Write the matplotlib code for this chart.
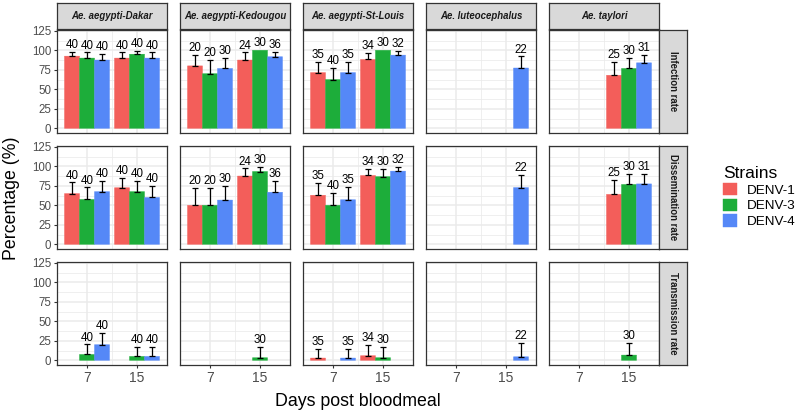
import matplotlib
matplotlib.use("Agg")
import matplotlib.pyplot as plt

plt.rcParams["font.family"] = ["Liberation Sans", "DejaVu Sans"]

species = ["Ae. aegypti-Dakar", "Ae. aegypti-Kedougou", "Ae. aegypti-St-Louis",
           "Ae. luteocephalus", "Ae. taylori"]
rates = ["Infection rate", "Dissemination rate", "Transmission rate"]
strains = ["DENV-1", "DENV-3", "DENV-4"]
days = ["7", "15"]
colors = ["#F35E5A", "#1DAD3A", "#5588F7"]

# mosquitoes tested, per species -> day -> strain (None = not tested)
sample_n = [
    [[40, 40, 40], [40, 40, 40]],
    [[20, 20, 30], [24, 30, 36]],
    [[35, 40, 35], [34, 30, 32]],
    [[None, None, None], [None, None, 22]],
    [[None, None, None], [25, 30, 31]],
]

infection_pct = [
    [[92.5, 90.0, 87.5], [90.0, 95.0, 90.0]],
    [[80.0, 70.0, 76.7], [87.5, 100.0, 91.7]],
    [[71.4, 62.5, 71.4], [88.2, 100.0, 93.8]],
    [[None, None, None], [None, None, 77.3]],
    [[None, None, None], [68.0, 76.7, 83.9]],
]
infection_upper = [
    [[98.4, 97.2, 95.8], [97.2, 99.4, 97.2]],
    [[94.3, 88.1, 90.1], [97.3, 100.0, 98.2]],
    [[85.4, 77.3, 85.4], [96.7, 100.0, 99.2]],
    [[None, None, None], [None, None, 92.2]],
    [[None, None, None], [85.1, 90.1, 94.5]],
]

dissemination_pct = [
    [[65.0, 57.5, 67.5], [72.5, 67.5, 60.0]],
    [[50.0, 50.0, 56.7], [87.5, 93.3, 66.7]],
    [[62.9, 50.0, 57.1], [88.2, 86.7, 93.8]],
    [[None, None, None], [None, None, 72.7]],
    [[None, None, None], [64.0, 76.7, 77.4]],
]
dissemination_upper = [
    [[79.4, 72.9, 81.4], [85.4, 81.4, 75.1]],
    [[72.8, 72.8, 74.5], [97.3, 99.2, 81.4]],
    [[78.8, 65.8, 73.7], [96.7, 96.2, 99.2]],
    [[None, None, None], [None, None, 89.3]],
    [[None, None, None], [82.0, 90.1, 90.4]],
]

transmission_pct = [
    [[0.0, 7.5, 20.0], [0.0, 5.0, 5.0]],
    [[0.0, 0.0, 0.0], [0.0, 3.3, 0.0]],
    [[2.9, 0.0, 2.9], [5.9, 3.3, 0.0]],
    [[None, None, None], [None, None, 4.5]],
    [[None, None, None], [0.0, 6.7, 0.0]],
]
transmission_upper = [
    [[None, 20.4, 35.6], [None, 16.9, 16.9]],
    [[None, None, None], [None, 17.2, None]],
    [[14.9, None, 14.9], [19.7, 17.2, None]],
    [[None, None, None], [None, None, 22.8]],
    [[None, None, None], [None, 22.1, None]],
]

rate_pct = [infection_pct, dissemination_pct, transmission_pct]
rate_upper = [infection_upper, dissemination_upper, transmission_upper]

# ---- layout in pixels ----
W, H = 800, 413
col_x = [57, 180, 303, 426, 549]
pan_w = 110
row_y = [30, 146, 262]
pan_h = 103
border = "#333333"
grid_c = "#EBEBEB"


def px_axes(fig, x, y, w, h):
    return fig.add_axes([x / W, 1 - (y + h) / H, w / W, h / H])


fig = plt.figure(figsize=(W / 100, H / 100), dpi=100)

bar_w = 0.3
handles = []
for r, rate in enumerate(rates):
    for c, sp in enumerate(species):
        ax = px_axes(fig, col_x[c], row_y[r], pan_w, pan_h)
        ax.set_xlim(0.4, 2.6)
        ax.set_ylim(-6, 126)
        ax.set_yticks([0, 25, 50, 75, 100, 125])
        ax.set_yticks([12.5, 37.5, 62.5, 87.5, 112.5], minor=True)
        ax.set_xticks([1, 2])
        ax.set_xticks([1.5], minor=True)
        ax.grid(which="major", color=grid_c, lw=1.1, zorder=0)
        ax.grid(which="minor", color=grid_c, lw=0.55, zorder=0)
        ax.set_axisbelow(True)
        for s in ax.spines.values():
            s.set_color(border)
            s.set_linewidth(0.9)

        for d in range(len(days)):
            for j in range(len(strains)):
                v = rate_pct[r][c][d][j]
                if v is None or v <= 0:
                    continue
                x = d + 1 + (j - 1) * bar_w
                b = ax.bar(x, v, width=bar_w, color=colors[j],
                           edgecolor=colors[j], linewidth=0.3, zorder=2,
                           label=strains[j])
                for p in b:
                    p.set_snap(False)
                if r == 0 and c == 0 and d == 0:
                    handles.append(b)
                up = rate_upper[r][c][d][j]
                top = v
                if up is not None and up > v:
                    ax.errorbar(x, v, yerr=[[0], [up - v]], fmt="none",
                                ecolor="black", elinewidth=0.9, capsize=1.9,
                                capthick=0.9, zorder=3)
                    top = up
                ax.annotate(str(sample_n[c][d][j]), (x, top), xytext=(0, 0.6),
                            textcoords="offset points", ha="center",
                            va="bottom", fontsize=8.3, zorder=4)

        ax.tick_params(which="minor", length=0)
        if c == 0:
            ax.tick_params(axis="y", which="major", length=2.5, width=0.8,
                           color=border, labelsize=8.3, pad=1.5,
                           labelcolor="#4D4D4D")
        else:
            ax.tick_params(axis="y", which="major", length=0, labelleft=False)
        if r == len(rates) - 1:
            ax.set_xticklabels(days)
            ax.tick_params(axis="x", which="major", length=2.5, width=0.8,
                           color=border, labelsize=10, pad=2,
                           labelcolor="#4D4D4D")
        else:
            ax.tick_params(axis="x", which="major", length=0, labelbottom=False)

# top strips
for c, sp in enumerate(species):
    sax = px_axes(fig, col_x[c], 3, pan_w, 26)
    sax.set_facecolor("#D9D9D9")
    sax.set_xticks([])
    sax.set_yticks([])
    for s in sax.spines.values():
        s.set_color(border)
        s.set_linewidth(0.9)
    sax.text(0.5, 0.5, sp, ha="center", va="center", fontsize=6.9,
             fontweight="bold", fontstyle="italic", color="#1A1A1A",
             transform=sax.transAxes)

# right strips
for r, rate in enumerate(rates):
    sax = px_axes(fig, 659, row_y[r], 28, pan_h)
    sax.set_facecolor("#D9D9D9")
    sax.set_xticks([])
    sax.set_yticks([])
    for s in sax.spines.values():
        s.set_color(border)
        s.set_linewidth(0.9)
    sax.text(0.5, 0.5, rate, ha="center", va="center", fontsize=6.9,
             fontweight="bold", rotation=-90, color="#1A1A1A",
             transform=sax.transAxes)

fig.text(12 / W, 1 - 198 / H, "Percentage (%)", rotation=90, ha="center",
         va="center", fontsize=12.8)
fig.text(358 / W, 1 - 401 / H, "Days post bloodmeal", ha="center",
         va="center", fontsize=12.8)

leg = fig.legend(handles=handles, labels=strains, title="Strains",
                 loc="upper left", bbox_to_anchor=(711 / W, 1 - 154 / H),
                 frameon=False, fontsize=9.7, title_fontsize=12.5,
                 handlelength=1.0, handleheight=1.0, handletextpad=0.8,
                 labelspacing=0.15, alignment="left")

fig.savefig("out.png", dpi=100)
